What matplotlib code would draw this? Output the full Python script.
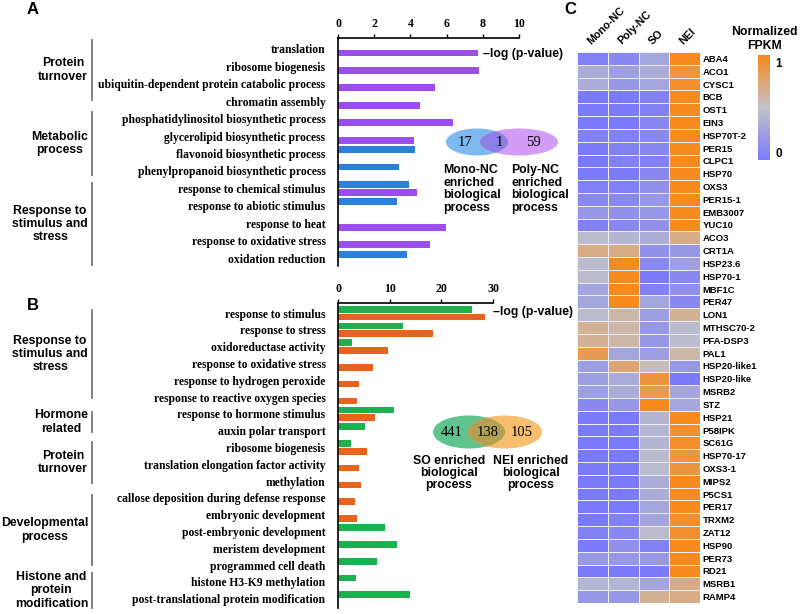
import numpy as np
import matplotlib
matplotlib.use("Agg")
import matplotlib.pyplot as plt
from matplotlib.patches import Ellipse
from matplotlib.colors import LinearSegmentedColormap
import matplotlib.cm as cm

# ---------------- data ----------------
catsA = ["translation", "ribosome biogenesis",
         "ubiquitin-dependent protein catabolic process", "chromatin assembly",
         "phosphatidylinositol biosynthetic process", "glycerolipid biosynthetic process",
         "flavonoid biosynthetic process", "phenylpropanoid biosynthetic process",
         "response to chemical stimulus", "response to abiotic stimulus",
         "response to heat", "response to oxidative stress", "oxidation reduction"]
nan = np.nan
monoA = [nan, nan, nan, nan, nan, nan, 4.26, 3.39, 3.94, 3.27, nan, nan, 3.80]
polyA = [7.72, 7.78, 5.38, 4.54, 6.33, 4.22, nan, nan, 4.37, nan, 5.99, 5.08, nan]
ticksA = [0, 2, 4, 6, 8, 10]

catsB = ["response to stimulus", "response to stress", "oxidoreductase activity",
         "response to oxidative stress", "response to hydrogen peroxide",
         "response to reactive oxygen species", "response to hormone stimulus",
         "auxin polar transport", "ribosome biogenesis",
         "translation elongation factor activity", "methylation",
         "callose deposition during defense response", "embryonic development",
         "post-embryonic development", "meristem development",
         "programmed cell death", "histone H3-K9 methylation",
         "post-translational protein modification"]
soB = [25.9, 12.6, 2.7, nan, nan, nan, 10.9, 5.2, 2.5, nan, nan, nan, nan,
       9.0, 11.4, 7.5, 3.4, 13.9]
neiB = [28.5, 18.4, 9.6, 6.8, 4.0, 3.6, 7.1, nan, 5.6, 4.0, 4.4, 3.3, 3.7,
        nan, nan, nan, nan, nan]
ticksB = [0, 10, 20, 30]

vennA = ["17", "1", "59"]
vennB = ["441", "138", "105"]

genes = ["ABA4", "ACO1", "CYSC1", "BCB", "OST1", "EIN3", "HSP70T-2", "PER15",
         "CLPC1", "HSP70", "OXS3", "PER15-1", "EMB3007", "YUC10", "ACO3", "CRT1A",
         "HSP23.6", "HSP70-1", "MBF1C", "PER47", "LON1", "MTHSC70-2", "PFA-DSP3",
         "PAL1", "HSP20-like1", "HSP20-like", "MSRB2", "STZ", "HSP21", "P58IPK",
         "SC61G", "HSP70-17", "OXS3-1", "MIPS2", "P5CS1", "PER17", "TRXM2", "ZAT12",
         "HSP90", "PER73", "RD21", "MSRB1", "RAMP4"]
samples = ["Mono-NC", "Poly-NC", "SO", "NEI"]
mono_nc = [0.05, 0.35, 0.35, 0.0, 0.0, 0.0, 0.05, 0.0, 0.0, 0.0, 0.05, 0.1, 0.2, 0.05,
           0.45, 0.7, 0.45, 0.45, 0.3, 0.3, 0.45, 0.65, 0.65, 0.85, 0.25, 0.25, 0.25,
           0.1, 0.0, 0.0, 0.0, 0.0, 0.0, 0.0, 0.0, 0.0, 0.0, 0.05, 0.0, 0.2, 0.0, 0.4, 0.2]
poly_nc = [0.1, 0.25, 0.2, 0.0, 0.0, 0.0, 0.05, 0.05, 0.05, 0.0, 0.05, 0.1, 0.15, 0.1,
           0.4, 0.7, 1.0, 1.0, 1.0, 1.0, 0.6, 0.6, 0.6, 0.3, 0.75, 0.35, 0.35,
           0.2, 0.0, 0.0, 0.0, 0.0, 0.0, 0.0, 0.0, 0.0, 0.05, 0.1, 0.15, 0.2, 0.0, 0.4, 0.2]
so = [0.3, 0.35, 0.3, 0.05, 0.05, 0.1, 0.1, 0.1, 0.05, 0.1, 0.15, 0.2, 0.2, 0.15,
      0.35, 0.15, 0.1, 0.0, 0.05, 0.3, 0.25, 0.2, 0.2, 0.25, 0.55, 0.9, 0.85,
      1.0, 0.4, 0.4, 0.4, 0.45, 0.45, 0.35, 0.35, 0.3, 0.3, 0.45, 0.05, 0.2, 0.0, 0.3, 0.65]
nei = [1.0, 0.9, 0.95, 1.0, 1.0, 1.0, 1.0, 1.0, 1.0, 1.0, 1.0, 1.0, 1.0, 1.0,
       0.7, 0.2, 0.25, 0.1, 0.15, 0.1, 0.65, 0.45, 0.45, 0.6, 0.2, 0.0, 0.3,
       0.3, 1.0, 0.95, 0.95, 0.9, 0.9, 1.0, 1.0, 1.0, 0.95, 0.95, 1.0, 1.0, 1.0, 0.7, 0.7]

# ---------------- style ----------------
SERIF = "Liberation Serif"
SANS = "Liberation Sans"
C_PURPLE = "#9B4DEE"
C_BLUE = "#2A80DA"
C_GREEN = "#1DB04E"
C_ORANGE = "#E8641C"

W, H = 800, 614
fig = plt.figure(figsize=(W / 100, H / 100), dpi=100)


def px_axes(x0, y0, x1, y1, **kw):
    return fig.add_axes([x0 / W, 1 - y1 / H, (x1 - x0) / W, (y1 - y0) / H], **kw)


def bar_panel(ax, cats, top_vals, bot_vals, top_col, bot_col, ticks, xmax, ylim):
    n = len(cats)
    y = np.arange(n)
    off, hgt = 0.23, 0.40
    ax.barh(y - off, top_vals, height=hgt, color=top_col, zorder=2)
    ax.barh(y + off, bot_vals, height=hgt, color=bot_col, zorder=2)
    ax.set_xlim(0, xmax)
    ax.set_ylim(*ylim)
    ax.set_yticks(y)
    ax.set_yticklabels(cats, fontfamily=SERIF, fontweight="bold", fontsize=8.4)
    ax.tick_params(axis="y", length=0, pad=9)
    ax.xaxis.tick_top()
    ax.set_xticks(ticks)
    ax.set_xticklabels([str(t) for t in ticks], fontfamily=SERIF,
                       fontweight="bold", fontsize=8.6)
    ax.tick_params(axis="x", length=3, width=1, pad=3, direction="out")
    for s in ["right", "bottom"]:
        ax.spines[s].set_visible(False)
    for s in ["top", "left"]:
        ax.spines[s].set_linewidth(1.2)
    ax.patch.set_visible(False)


# Panel A
axA = px_axes(338, 38, 519, 266)
bar_panel(axA, catsA, monoA, polyA, C_BLUE, C_PURPLE, ticksA, 10, (12.45, -0.63))

# Panel B
axB = px_axes(338, 303, 493, 608)
bar_panel(axB, catsB, soB, neiB, C_GREEN, C_ORANGE, ticksB, 30, (17.56, -0.6))

# Heatmap
cmap = LinearSegmentedColormap.from_list(
    "fpkm", [(0.0, (0.48, 0.48, 0.98)), (0.5, (0.76, 0.76, 0.79)),
             (1.0, (0.97, 0.54, 0.11))])
M = np.column_stack([mono_nc, poly_nc, so, nei])
axC = px_axes(577, 52, 700, 603)
axC.pcolormesh(M, cmap=cmap, vmin=0, vmax=1, edgecolors="#eeeef6", linewidth=0.5)
axC.set_xlim(0, 4)
axC.set_ylim(len(genes), 0)
axC.set_yticks(np.arange(len(genes)) + 0.5)
axC.set_yticklabels(genes, fontfamily=SANS, fontweight="bold", fontsize=6.8)
axC.yaxis.tick_right()
axC.tick_params(axis="y", length=0, pad=2)
axC.set_xticks(np.arange(4) + 0.5)
axC.set_xticklabels(samples, rotation=45, ha="left", va="bottom",
                    rotation_mode="anchor", fontfamily=SANS, fontweight="bold",
                    fontsize=7.8)
axC.xaxis.tick_top()
axC.tick_params(axis="x", length=0, pad=4)
for s in axC.spines.values():
    s.set_visible(False)

# Colorbar
cax = px_axes(758, 55, 770, 160)
sm = cm.ScalarMappable(cmap=cmap, norm=plt.Normalize(0, 1))
cb = fig.colorbar(sm, cax=cax)
cb.outline.set_visible(False)
cb.set_ticks([0.07, 0.93], labels=["0", "1"])
cax.tick_params(length=0, pad=4)
for lab in cax.get_yticklabels():
    lab.set_fontfamily(SANS)
    lab.set_fontweight("bold")
    lab.set_fontsize(8.5)

# Overlay for annotations (pixel coordinates)
ov = fig.add_axes([0, 0, 1, 1])
ov.set_xlim(0, W)
ov.set_ylim(H, 0)
ov.axis("off")
ov.patch.set_visible(False)

sans_b = dict(fontfamily=SANS, fontweight="bold")
ov.text(33, 10, "A", fontsize=12, ha="center", va="center", **sans_b)
ov.text(33, 305, "B", fontsize=12, ha="center", va="center", **sans_b)
ov.text(570, 10, "C", fontsize=12, ha="center", va="center", **sans_b)

ov.text(483, 54, "\u2013log (p-value)", fontsize=8.8, ha="left", va="center", **sans_b)
ov.text(493, 312, "\u2013log (p-value)", fontsize=8.8, ha="left", va="center", **sans_b)

ov.text(764, 39, "Normalized\nFPKM", fontsize=8.8, ha="center", va="center",
        linespacing=1.15, **sans_b)

# group brackets
groups = [
    ("Protein\nturnover", 40, 100),
    ("Metabolic\nprocess", 112, 175),
    ("Response to\nstimulus and\nstress", 183, 265),
    ("Response to\nstimulus and\nstress", 310, 398),
    ("Hormone\nrelated", 412, 432),
    ("Protein\nturnover", 442, 483),
    ("Developmental\nprocess", 495, 565),
    ("Histone and\nprotein\nmodification", 573, 608),
]
for label, y0, y1 in groups:
    ov.plot([92, 92], [y0, y1], color="#808080", lw=1.4)
    ov.text(88, (y0 + y1) / 2, label, fontsize=8.8, ha="right", va="center",
            multialignment="center", linespacing=1.15, **sans_b)


def venn(cl, cr, w_l, w_r, yc, h, col_l, col_r, col_o, nums, xnums):
    el = Ellipse((cl, yc), w_l, h, facecolor=col_l, edgecolor="none")
    er = Ellipse((cr, yc), w_r, h, facecolor=col_r, edgecolor="none")
    ov.add_patch(el)
    ov.add_patch(er)
    eo = Ellipse((cl, yc), w_l, h, facecolor=col_o, edgecolor="none")
    ov.add_patch(eo)
    clip = Ellipse((cr, yc), w_r, h, transform=ov.transData)
    eo.set_clip_path(clip)
    for t, x in zip(nums, xnums):
        ov.text(x, yc, t, fontfamily=SERIF, fontsize=10.5, ha="center", va="center")


venn(477, 519, 62, 78, 142, 27, "#7DB8EE", "#D39CF6", "#8C80E6", vennA, [465, 499, 533])
ov.text(443, 189, "Mono-NC\nenriched\nbiological\nprocess", fontsize=8.8,
        ha="left", va="center", linespacing=1.05, **sans_b)
ov.text(511, 189, "Poly-NC\nenriched\nbiological\nprocess", fontsize=8.8,
        ha="left", va="center", linespacing=1.05, **sans_b)

venn(469, 505, 72, 74, 432, 33, "#5FC38D", "#F6BE6E", "#B3A052", vennB, [452, 488, 522])
ov.text(449, 473, "SO enriched\nbiological\nprocess", fontsize=8.8,
        ha="center", va="center", linespacing=1.05, **sans_b)
ov.text(531, 473, "NEI enriched\nbiological\nprocess", fontsize=8.8,
        ha="center", va="center", linespacing=1.05, **sans_b)

fig.savefig("out.png", dpi=100)
